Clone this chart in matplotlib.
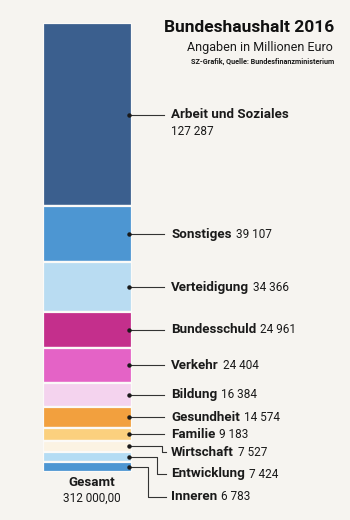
import matplotlib.pyplot as plt
import numpy as np

# Bundeshaushalt 2016, Angaben in Millionen Euro
categories = ["Arbeit und Soziales", "Sonstiges", "Verteidigung", "Bundesschuld",
              "Verkehr", "Bildung", "Gesundheit", "Familie", "Wirtschaft",
              "Entwicklung", "Inneren"]
values = [127287, 39107, 34366, 24961, 24404, 16384, 14574, 9183, 7527, 7424, 6783]
value_labels = ["127 287", "39 107", "34 366", "24 961", "24 404", "16 384",
                "14 574", "9 183", "7 527", "7 424", "6 783"]
total_label = "312 000,00"

colors = ["#3b5f8e", "#4d96d2", "#b9dcf2", "#c42f8c", "#e463c6", "#f4d3ee",
          "#f2a03e", "#fbd07e", "#fbf3e3", "#b4dcf4", "#4d96d2"]

BG = "#f6f4f0"
W, H = 350, 520
plt.rcParams["font.family"] = ["Roboto", "DejaVu Sans"]

fig = plt.figure(figsize=(W / 100, H / 100), dpi=100, facecolor=BG)

# stacked column, y axis in data units (Mio. Euro), top -> bottom
bar_top, bar_bot, bar_l, bar_r = 23, 472, 43, 132
ax = fig.add_axes([bar_l / W, 1 - bar_bot / H, (bar_r - bar_l) / W, (bar_bot - bar_top) / H])
vals = np.array(values)
bottoms = np.concatenate([[0], np.cumsum(vals)[:-1]])
ax.bar(0, vals, bottom=bottoms, width=1, color=colors, edgecolor="#fbfaf8", linewidth=1.6)
ax.set_xlim(-0.5, 0.5)
ax.set_ylim(vals.sum(), 0)
ax.axis("off")

# overlay in pixel coordinates for labels and leader lines
ov = fig.add_axes([0, 0, 1, 1])
ov.set_xlim(0, W)
ov.set_ylim(H, 0)
ov.axis("off")
ov.patch.set_alpha(0)


def to_px(y):
    disp = ax.transData.transform((0.5, y))
    return ov.transData.inverted().transform(disp)[1]


mids = [to_px(b + v / 2) for b, v in zip(bottoms, vals)]
label_x = 171
# label rows for the bottom three (elbow leaders)
elbow = {8: (162, 452), 9: (157, 474), 10: (148, 497)}

renderer = fig.canvas.get_renderer()
for i, (name, vlab, ym) in enumerate(zip(categories, value_labels, mids)):
    dot_x = 129
    ov.plot(dot_x, ym, "o", color="#1a1a1a", ms=2.2, zorder=5)
    if i in elbow:
        kx, ly = elbow[i]
        ov.plot([dot_x, kx, kx, label_x - 5], [ym, ym, ly, ly], color="#333333", lw=0.8)
    else:
        ly = ym
        ov.plot([dot_x, 164], [ym, ym], color="#333333", lw=0.8)
    t = ov.text(label_x, ly, name, fontsize=9.6, fontweight="bold", color="#1a1a1a",
                va="center", ha="left")
    if i == 0:
        ov.text(label_x, ly + 17, vlab, fontsize=8.5, color="#1a1a1a", va="center", ha="left")
    else:
        bb = t.get_window_extent(renderer)
        x1 = ov.transData.inverted().transform((bb.x1, bb.y0))[0]
        ov.text(x1 + 4, ly, vlab, fontsize=8.5, color="#1a1a1a", va="center", ha="left")

ov.text(92, 482, "Gesamt", fontsize=9.6, fontweight="bold", color="#1a1a1a", ha="center", va="center")
ov.text(92, 498, total_label, fontsize=8.5, color="#1a1a1a", ha="center", va="center")

ov.text(334, 27, "Bundeshaushalt 2016", fontsize=12.5, fontweight="bold", color="#111111",
        ha="right", va="center")
ov.text(333, 48, "Angaben in Millionen Euro", fontsize=9, color="#1a1a1a", ha="right", va="center")
ov.text(334, 62, "SZ-Grafik, Quelle: Bundesfinanzministerium", fontsize=5.2, fontweight="bold",
        color="#1a1a1a", ha="right", va="center")

fig.savefig("out.png", dpi=100, facecolor=BG)
